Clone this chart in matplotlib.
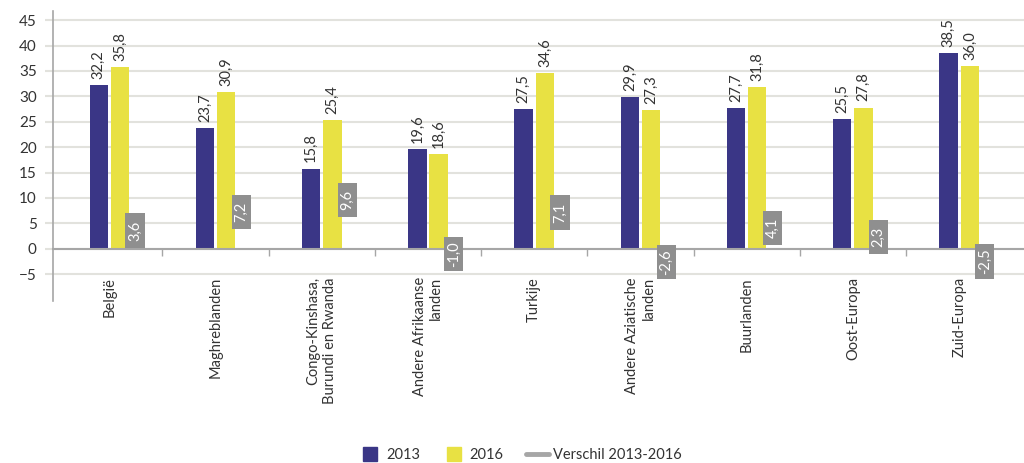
import matplotlib
matplotlib.use("Agg")
import matplotlib.pyplot as plt
from matplotlib.lines import Line2D
from matplotlib.patches import Rectangle

# data
categories = [
    "België", "Maghreblanden", "Congo-Kinshasa,\nBurundi en Rwanda",
    "Andere Afrikaanse\nlanden", "Turkije", "Andere Aziatische\nlanden",
    "Buurlanden", "Oost-Europa", "Zuid-Europa",
]
vals_2013 = [32.2, 23.7, 15.8, 19.6, 27.5, 29.9, 27.7, 25.5, 38.5]
vals_2016 = [35.8, 30.9, 25.4, 18.6, 34.6, 27.3, 31.8, 27.8, 36.0]
verschil = [3.6, 7.2, 9.6, -1.0, 7.1, -2.6, 4.1, 2.3, -2.5]

BLUE = "#3a3686"
YELLOW = "#e8e143"
GREY = "#8f8f8f"
GRID = "#e2e2dd"
AXIS = "#a6a6a6"
TEXT = "#333333"

plt.rcParams["font.family"] = ["Lato", "DejaVu Sans"]

fig = plt.figure(figsize=(10.24, 4.63), dpi=100)
ax = fig.add_axes([53.3 / 1024, 1 - 300.6 / 463, 1 - 53.3 / 1024, (300.6 - 11) / 463])

x = list(range(len(categories)))
bw = 0.172
off_blue, off_yel, off_box = -0.1, 0.1, 0.242

ax.bar([i + off_blue for i in x], vals_2013, width=bw, color=BLUE, zorder=3)
ax.bar([i + off_yel for i in x], vals_2016, width=bw, color=YELLOW, zorder=3)

def fmt(v):
    return f"{v:.1f}".replace(".", ",")

for i in x:
    ax.text(i + off_blue, vals_2013[i] + 1.2, fmt(vals_2013[i]), rotation=90,
            ha="center", va="bottom", fontsize=10.5, color=TEXT, zorder=5)
    ax.text(i + off_yel, vals_2016[i] + 1.2, fmt(vals_2016[i]), rotation=90,
            ha="center", va="bottom", fontsize=10.5, color=TEXT, zorder=5)
    # grey difference label box
    bx, by = i + off_box, verschil[i]
    ax.add_patch(Rectangle((bx - 0.09, by - 3.4), 0.18, 6.8, facecolor=GREY,
                           edgecolor="none", zorder=6))
    ax.text(bx, by, fmt(verschil[i]), rotation=90, ha="center", va="center",
            fontsize=10.5, color="white", zorder=7)
    # category label
    ax.text(i, -5.6, categories[i], rotation=90, ha="center", va="top",
            multialignment="right", fontsize=10.5, color=TEXT)

ax.set_xlim(-0.527, 8.61)
ax.set_ylim(-10.2, 46.8)
ax.set_yticks(range(-5, 50, 5))
ax.grid(axis="y", color=GRID, linewidth=1.5, zorder=0)
ax.set_axisbelow(True)

ax.set_xticks([i + 0.5 for i in x[:-1]])
ax.set_xticklabels([])
ax.tick_params(axis="x", direction="out", length=5, color=AXIS, width=1)
ax.tick_params(axis="y", direction="out", length=6, color=GRID, width=1.5,
               labelsize=11, labelcolor=TEXT, pad=6)

for s in ("top", "right"):
    ax.spines[s].set_visible(False)
ax.spines["bottom"].set_position(("data", 0))
ax.spines["bottom"].set_color(AXIS)
ax.spines["bottom"].set_linewidth(1.5)
ax.spines["bottom"].set_zorder(4)
ax.spines["left"].set_color(AXIS)
ax.spines["left"].set_linewidth(1.2)

handles = [
    Line2D([], [], marker="s", ls="none", color=BLUE, markersize=10),
    Line2D([], [], marker="s", ls="none", color=YELLOW, markersize=10),
    Line2D([], [], color=AXIS, lw=3.5, solid_capstyle="round"),
]
fig.legend(handles, ["2013", "2016", "Verschil 2013-2016"], loc="center",
           bbox_to_anchor=(0.508, 0.017), ncol=3, frameon=False, fontsize=10.5,
           handlelength=1.6, handletextpad=0.3, columnspacing=1.5,
           labelcolor=TEXT)

fig.savefig("out.png", dpi=100)
